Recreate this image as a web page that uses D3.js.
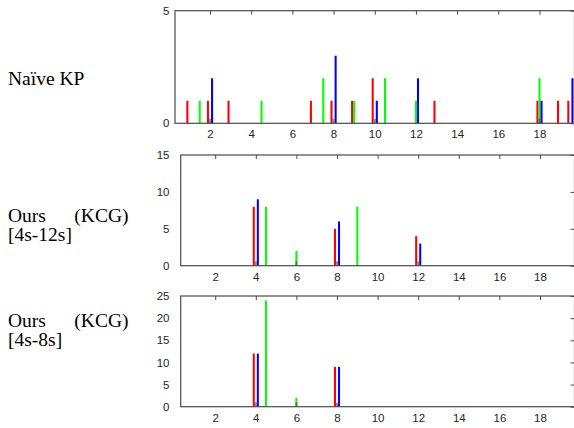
<!DOCTYPE html>
<html>
<head>
<meta charset="utf-8">
<script src="https://cdn.jsdelivr.net/npm/d3@7"></script>
<style>
  body { margin: 0; background: #fff; }
  svg { display: block; }
</style>
</head>
<body>
<div id="chart"></div>
<script>
// keystep positions shared by all panels
const xTicks = [2, 4, 6, 8, 10, 12, 14, 16, 18];

// Naive KP  [position, count]
const naiveRed   = [[0.9,1],[1.9,1],[2.9,1],[6.9,1],[7.9,1],[8.9,1],[9.9,2],[12.9,1],[17.9,1],[18.9,1],[19.4,1]];
const naiveGreen = [[1.5,1],[4.5,1],[7.5,2],[9.0,1],[10.5,2],[12.0,1],[18.0,2]];
const naiveBlue  = [[2.1,2],[8.1,3],[10.1,1],[12.1,2],[18.1,1],[19.6,2]];
const naiveGray  = [[2,0.2],[8,0.2],[10,0.2],[18,0.2]];
const naiveYTicks = [0, 5];

// Ours (KCG) [4s-12s]
const kcg12Red   = [[3.9,8],[7.9,5],[11.9,4]];
const kcg12Green = [[4.5,8],[6,2],[9,8]];
const kcg12Blue  = [[4.1,9],[8.1,6],[12.1,3]];
const kcg12Gray  = [[4,0.6],[6,0.6],[8,0.6],[12,0.6]];
const kcg12YTicks = [0, 5, 10, 15];

// Ours (KCG) [4s-8s]
const kcg8Red   = [[3.9,12],[7.9,9]];
const kcg8Green = [[4.5,24],[6,2]];
const kcg8Blue  = [[4.1,12],[8.1,9]];
const kcg8Gray  = [[4,1],[6,1],[8,0.9]];
const kcg8YTicks = [0, 5, 10, 15, 20, 25];

const width = 574, height = 428;
const xDomain = [0.3, 19.7];

const svg = d3.select("#chart")
  .append("svg")
  .attr("width", width)
  .attr("height", height);

const panels = [
  { top: 10.7, bottom: 123.3, left: 175, yTicks: naiveYTicks,
    series: [[naiveRed, "#ff0000"], [naiveGreen, "#00ff00"], [naiveBlue, "#0000ff"], [naiveGray, "#444"]],
    label: [["Naïve KP", 85]] },
  { top: 155, bottom: 265.7, left: 180.7, yTicks: kcg12YTicks,
    series: [[kcg12Red, "#ff0000"], [kcg12Green, "#00ff00"], [kcg12Blue, "#0000ff"], [kcg12Gray, "#444"]],
    label: [["Ours", 222, "(KCG)"], ["[4s-12s]", 241]] },
  { top: 296, bottom: 406.7, left: 180.7, yTicks: kcg8YTicks,
    series: [[kcg8Red, "#ff0000"], [kcg8Green, "#00ff00"], [kcg8Blue, "#0000ff"], [kcg8Gray, "#444"]],
    label: [["Ours", 327, "(KCG)"], ["[4s-8s]", 346]] }
];

const right = 574.5;
const axisColor = "#4a4a4a";

panels.forEach(p => {
  const x = d3.scaleLinear().domain(xDomain).range([p.left, right]);
  const y = d3.scaleLinear().domain(d3.extent(p.yTicks)).range([p.bottom, p.top]);
  const bw = x(0.1) - x(0);

  const g = svg.append("g");

  // bars
  p.series.forEach(([data, color]) => {
    g.append("g").selectAll("rect")
      .data(data)
      .join("rect")
      .attr("x", d => x(d[0]) - bw / 2)
      .attr("y", d => y(d[1]))
      .attr("width", bw)
      .attr("height", d => y(0) - y(d[1]))
      .attr("fill", color)
      .attr("fill-opacity", color === "#444" ? 0.6 : 1);
  });

  // box
  g.append("rect")
    .attr("x", p.left).attr("y", p.top)
    .attr("width", right - p.left).attr("height", p.bottom - p.top)
    .attr("fill", "none").attr("stroke", axisColor).attr("stroke-width", 1.2);

  // bottom labels
  const xb = g.append("g")
    .attr("transform", `translate(0, ${p.bottom})`)
    .call(d3.axisBottom(x).tickValues(xTicks).tickSize(0).tickPadding(7));
  // top ticks pointing down
  const xt = g.append("g")
    .attr("transform", `translate(0, ${p.top})`)
    .call(d3.axisTop(x).tickValues(xTicks).tickSize(-4).tickFormat(""));
  // left labels
  const yl = g.append("g")
    .attr("transform", `translate(${p.left}, 0)`)
    .call(d3.axisLeft(y).tickValues(p.yTicks).tickSize(0).tickPadding(0).tickFormat(d3.format("d")));
  yl.selectAll("text").attr("x", 169.5 - p.left);
  // right ticks pointing in
  const yr = g.append("g")
    .attr("transform", `translate(${right}, 0)`)
    .call(d3.axisRight(y).tickValues(p.yTicks).tickSize(-4).tickFormat(""));

  [xb, xt, yl, yr].forEach(a => {
    a.select(".domain").remove();
    a.selectAll("line").attr("stroke", axisColor);
    a.selectAll("text")
      .attr("fill", "#262626")
      .style("font-family", "'Liberation Sans', Arial, sans-serif")
      .style("font-size", "11.5px");
  });

  // row label
  p.label.forEach(([t, yy, t2]) => {
    svg.append("text")
      .attr("x", 8).attr("y", yy)
      .style("font-family", "'Liberation Serif', 'Times New Roman', serif")
      .style("font-size", "19.5px")
      .attr("fill", "#000")
      .text(t);
    if (t2) {
      svg.append("text")
        .attr("x", 128.5).attr("y", yy)
        .attr("text-anchor", "end")
        .style("font-family", "'Liberation Serif', 'Times New Roman', serif")
        .style("font-size", "19.5px")
        .attr("fill", "#000")
        .text(t2);
    }
  });
});
</script>
</body>
</html>
